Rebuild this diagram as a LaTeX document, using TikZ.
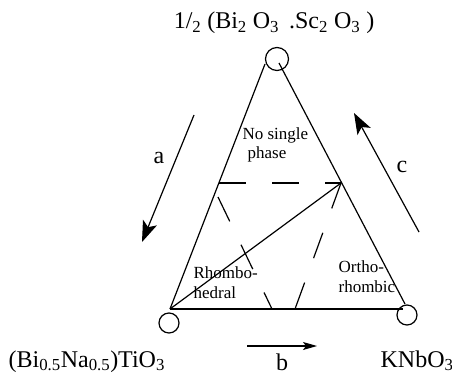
\documentclass[tikz,border=0pt]{standalone}
\usepackage{fontspec}
\setmainfont{Liberation Serif}
\usetikzlibrary{arrows.meta}
\begin{document}
\begin{tikzpicture}[x=1pt,y=-1pt,line width=1.2pt,
  ring/.style={draw,circle,minimum size=20pt,inner sep=0pt,line width=1.2pt},
  big/.style={font=\fontsize{24}{28}\selectfont,inner sep=0pt},
  small/.style={font=\fontsize{17}{19.5}\selectfont,inner sep=0pt,align=left},
  dsh/.style={dash pattern=on 27pt off 26pt},
  bigarrow/.style={-{Stealth[length=21pt,width=15pt,inset=5pt]}},
  smallarrow/.style={-{Stealth[length=14pt,width=8pt,inset=3pt]}}]
\useasboundingbox (0,0) rectangle (452,374);
% vertices
\coordinate (L) at (170,309);
\coordinate (Tl) at (265,64);
\coordinate (Tr) at (279,63);
\coordinate (Rs) at (405,304);
\coordinate (Rb) at (403,309);
\coordinate (P) at (219,183);
\coordinate (Q) at (341,183);
\coordinate (D1) at (218,197);
\coordinate (D2) at (272,309);
\coordinate (D3) at (295,309);
% circles
\node[ring,minimum width=21pt,minimum height=23pt] (ct) at (277,59) {};
\node[ring] (cl) at (169,323) {};
\node[ring] (cr) at (407,315) {};
% triangle
\draw (L) -- (Tl);
\draw (Tr) -- (Rs);
\draw[line width=1.8pt] (L) -- (Rb);
\draw (L) -- (Q);
% dashed boundaries
\draw[dsh] (P) -- (Q);
\draw[dsh] (D1) -- (D2);
\draw[dsh] (Q) -- (D3);
% direction arrows
\coordinate (a1) at (194,115); \coordinate (a2) at (142,242);
\coordinate (c1) at (419,232); \coordinate (c2) at (354,113);
\coordinate (b1) at (247,346); \coordinate (b2) at (317,346);
\draw[bigarrow] (a1) -- (a2);
\draw[bigarrow] (c1) -- (c2);
\draw[smallarrow] (b1) -- (b2);
% labels
\node[big,anchor=base] (ttop) at (274,29) {1/\textsubscript{2} (Bi\textsubscript{2} O\textsubscript{3} \,.Sc\textsubscript{2} O\textsubscript{3} )};
\node[big,anchor=base west] (tbnt) at (8,367) {(Bi\textsubscript{0.5}Na\textsubscript{0.5})TiO\textsubscript{3}};
\node[big,anchor=base west] (tkn) at (380,367) {KNbO\textsubscript{3}};
\node[big,anchor=base] (lb) at (282,370) {b};
\node[big] (la) at (159,158) {a};
\node[big] (lc) at (402,167) {c};
\node[small,anchor=base west] (nsp) at (242,159) {No single\\\hspace{5pt}phase};
\node[small,anchor=base west] (rh) at (193,298) {Rhombo-\\hedral};
\node[small,anchor=base west] (orh) at (338,292) {Ortho-\\rhombic};
\end{tikzpicture}
\end{document}
